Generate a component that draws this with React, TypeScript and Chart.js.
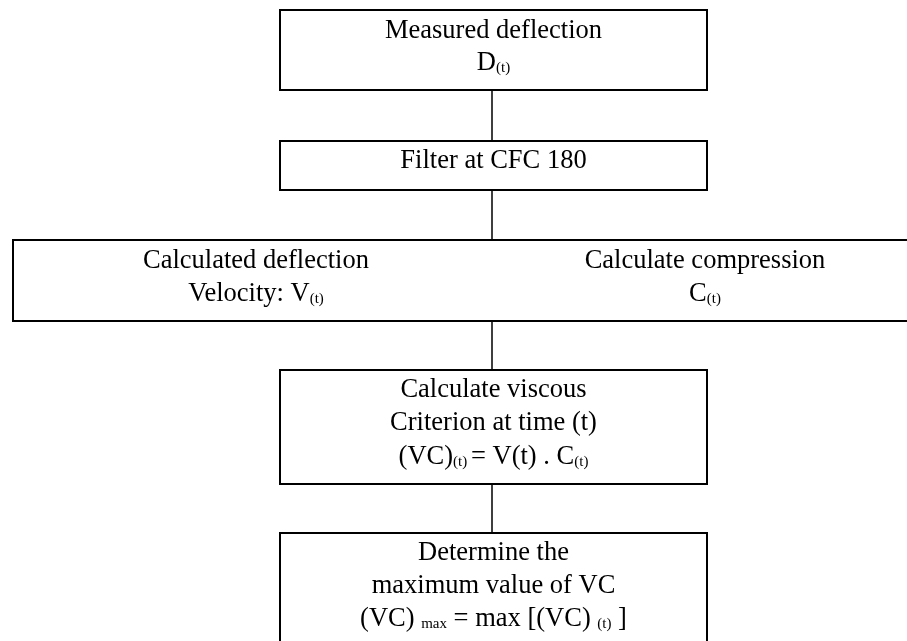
import React, { useEffect, useRef } from "react";
import { Chart, registerables } from "chart.js";

Chart.register(...registerables);

// ---- Flowchart data (in page pixel units of a 907 x 641 canvas) ----
const boxLeft = [280, 280, 13, 280, 280];
const boxRight = [707, 707, 907, 707, 707];
const boxTop = [10, 141, 240, 370, 533];
const boxBottom = [90, 190, 321, 484, 641];
const boxOpenSide = ["", "", "right", "", "bottom"];

const connectorX = 492;
const connectorFrom = [90, 190, 321, 484];
const connectorTo = [141, 240, 370, 533];

// Each text line: centre x, baseline y, runs of [text, isSubscript]
const lineCenterX = [493.5, 493.5, 493.5, 256, 256, 705, 705, 493.5, 493.5, 493.5, 493.5, 493.5, 493.5];
const lineBaseline = [37.5, 70, 168, 268, 300.5, 268, 300.5, 397, 430, 463.5, 560, 593, 625.5];
const lineRuns: [string, boolean][][] = [
  [["Measured deflection", false]],
  [["D", false], ["(t)", true]],
  [["Filter at CFC 180", false]],
  [["Calculated deflection", false]],
  [["Velocity: V", false], ["(t)", true]],
  [["Calculate compression", false]],
  [["C", false], ["(t)", true]],
  [["Calculate viscous", false]],
  [["Criterion at time (t)", false]],
  [["(VC)", false], ["(t) ", true], ["= V(t) . C", false], ["(t)", true]],
  [["Determine the", false]],
  [["maximum value of VC", false]],
  [["(VC) ", false], ["max", true], [" = max [(VC) ", false], ["(t)", true], [" ]", false]],
];

const MAIN_FONT = '26.5px "Liberation Serif", "Times New Roman", serif';
const SUB_FONT = '15px "Liberation Serif", "Times New Roman", serif';
const SUB_DROP = 2;

function boxPoints(i: number) {
  const l = boxLeft[i], r = boxRight[i], t = boxTop[i], b = boxBottom[i];
  if (boxOpenSide[i] === "right") {
    return [{ x: r, y: t }, { x: l, y: t }, { x: l, y: b }, { x: r, y: b }];
  }
  if (boxOpenSide[i] === "bottom") {
    return [{ x: l, y: b }, { x: l, y: t }, { x: r, y: t }, { x: r, y: b }];
  }
  return [{ x: l, y: t }, { x: r, y: t }, { x: r, y: b }, { x: l, y: b }, { x: l, y: t }];
}

const textPlugin = {
  id: "flowText",
  afterDatasetsDraw(chart: any) {
    const ctx = chart.ctx as CanvasRenderingContext2D;
    const xs = chart.scales.x;
    const ys = chart.scales.y;
    ctx.save();
    ctx.fillStyle = "#000";
    ctx.textBaseline = "alphabetic";
    ctx.textAlign = "left";
    lineRuns.forEach((runs, i) => {
      let total = 0;
      const widths = runs.map(([txt, sub]) => {
        ctx.font = sub ? SUB_FONT : MAIN_FONT;
        const w = ctx.measureText(txt).width;
        total += w;
        return w;
      });
      const cx = xs.getPixelForValue(lineCenterX[i]);
      const by = ys.getPixelForValue(lineBaseline[i]);
      let x = cx - total / 2;
      runs.forEach(([txt, sub], j) => {
        ctx.font = sub ? SUB_FONT : MAIN_FONT;
        ctx.fillText(txt, x, by + (sub ? SUB_DROP : 0));
        x += widths[j];
      });
    });
    ctx.restore();
  },
};

export default function App() {
  const canvasRef = useRef<HTMLCanvasElement | null>(null);

  useEffect(() => {
    if (!canvasRef.current) return;
    const datasets: any[] = [];
    boxLeft.forEach((_, i) => {
      datasets.push({
        data: boxPoints(i),
        showLine: true,
        borderColor: "#000",
        borderWidth: 2,
        pointRadius: 0,
        fill: false,
        tension: 0,
        borderJoinStyle: "miter",
        borderCapStyle: boxOpenSide[i] ? "butt" : "square",
        clip: false,
      });
    });
    connectorFrom.forEach((from, i) => {
      datasets.push({
        data: [
          { x: connectorX, y: from },
          { x: connectorX, y: connectorTo[i] },
        ],
        showLine: true,
        borderColor: "#000",
        borderWidth: 1.5,
        pointRadius: 0,
        fill: false,
        clip: false,
      });
    });

    const chart = new Chart(canvasRef.current, {
      type: "scatter",
      data: { datasets },
      options: {
        animation: false,
        responsive: false,
        devicePixelRatio: 1,
        events: [],
        layout: { padding: 0 },
        plugins: { legend: { display: false }, tooltip: { enabled: false } },
        scales: {
          x: { type: "linear", min: 0, max: 907, display: false },
          y: { type: "linear", min: 0, max: 641, reverse: true, display: false },
        },
      },
      plugins: [textPlugin],
    });
    return () => chart.destroy();
  }, []);

  return (
    <div style={{ position: "absolute", left: 0, top: 0, width: 907, height: 641, background: "#fff" }}>
      <canvas ref={canvasRef} width={907} height={641} style={{ display: "block" }} />
    </div>
  );
}
